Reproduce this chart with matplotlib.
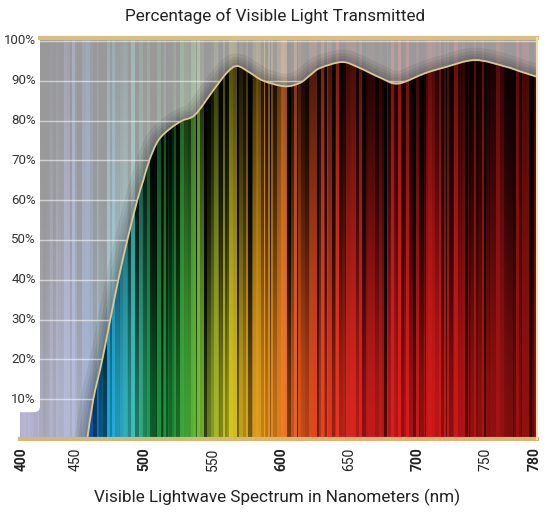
import numpy as np
import matplotlib
matplotlib.use('Agg')
import matplotlib.pyplot as plt
import matplotlib.transforms as mtransforms
from matplotlib.colors import to_rgb
from matplotlib.patches import FancyBboxPatch, PathPatch
from matplotlib.path import Path

# transmission curve (nm, %)
wavelength = [458.3, 462.7, 469.3, 475.1, 481.0, 487.6, 494.9, 499.3, 503.7, 510.2,
              519.0, 527.8, 537.3, 550.5, 560.7, 568.0, 577.5, 587.1, 603.1, 614.1,
              621.4, 628.7, 644.8, 656.5, 672.6, 685.8, 705.6, 720.2, 742.1, 764.0,
              776.5, 787.5]
transmission = [0, 10, 20, 30, 40, 50, 60, 65, 70, 75,
                78, 80, 81.5, 87.6, 92.1, 93.7, 92.0, 90.0, 88.6, 89.5,
                91.4, 93.2, 94.7, 93.4, 90.8, 89.3, 91.9, 93.4, 95.2, 93.6,
                92.2, 91.0]

y_ticks = [10, 20, 30, 40, 50, 60, 70, 80, 90, 100]
x_tick_labels = ['400', '450', '500', '550', '600', '650', '700', '750', '780']
# end labels sit on the frame edges like in the original
x_tick_pos = [410.5, 450, 500, 550, 600, 650, 700, 750, 786]
bold_labels = ['400', '500', '600', '700', '780']

# spectrum colour stops for the background
spec_nm = [409, 445, 460, 470, 482, 495, 505, 520, 535, 548, 562, 575, 595, 610, 635, 660,
           720, 750, 787.5]
spec_col = ['#6a5acd', '#5a70d0', '#1850b0', '#10a8e8', '#30c0e0', '#40c8b0', '#18a048', '#20a040',
            '#58b838', '#a0c430', '#e0d820', '#f0b820', '#f09020', '#f06820', '#f03c20', '#e82020',
            '#d81a1a', '#b01414', '#901010']

XMIN, XMAX = 409, 787.5
YMAX = 100.75

plt.rcParams['font.family'] = ['Roboto', 'DejaVu Sans']

fig = plt.figure(figsize=(5.5, 5.14), dpi=100)
ax = fig.add_axes([20 / 550, 1 - 439 / 514, 517 / 550, 401 / 514])
ax.set_xlim(XMIN, XMAX)
ax.set_ylim(0, YMAX)
for s in ax.spines.values():
    s.set_visible(False)


def hash01(k):
    return np.mod(np.sin(k * 12.9898 + 78.233) * 43758.5453, 1.0)


# background texture: thin vertical stripes, one column per pixel
W, H = 517, 320
xs = np.linspace(XMIN, XMAX, W)
ys = np.linspace(0, YMAX, H)
rgb = np.array([to_rgb(c) for c in spec_col])
col = np.stack([np.interp(xs, spec_nm, rgb[:, k]) for k in range(3)], axis=1)

b = np.empty(W)
p, k = 0, 0
while p < W:
    w = 1 + int(hash01(k + 0.5) * 3.99)
    b[p:p + w] = 0.05 + 0.95 * hash01(k + 7.3) ** 0.8
    p += w
    k += 1

t = (ys / 100.0)[:, None, None]
base = col[None, :, :] * (b[None, :, None] ** (0.4 + 3.2 * t ** 1.8)) * (1 - 0.4 * t ** 2)
base = np.clip(base, 0, 1)
over = np.clip(0.6 + 0.32 * base, 0, 1)

ax.imshow(over, extent=[XMIN, XMAX, 0, YMAX], origin='lower', aspect='auto',
          interpolation='nearest', zorder=0)

# smooth path through the read points (Catmull-Rom as cubic Bezier)
pts = np.column_stack([wavelength, transmission])
ext = np.vstack([pts[0], pts, pts[-1]])
verts = [tuple(pts[0])]
codes = [Path.MOVETO]
for i in range(1, len(ext) - 2):
    p0, p1, p2, p3 = ext[i - 1], ext[i], ext[i + 1], ext[i + 2]
    verts += [tuple(p1 + (p2 - p0) / 6), tuple(p2 - (p3 - p1) / 6), tuple(p2)]
    codes += [Path.CURVE4] * 3
curve = Path(verts, codes)
area = Path(verts + [(XMAX + 5, transmission[-1]), (XMAX + 5, -1), (wavelength[0], -1), verts[0]],
            codes + [Path.LINETO, Path.LINETO, Path.LINETO, Path.CLOSEPOLY])

# soft shadow above the curve
for lw in [18, 13, 9, 5]:
    ax.add_patch(PathPatch(curve, fc='none', ec='black', lw=lw, alpha=0.07,
                           joinstyle='round', capstyle='round', zorder=1))

for v in y_ticks:
    ax.axhline(v, color='white', lw=1, alpha=0.55, zorder=1.5)

area_patch = PathPatch(area, fc='none', ec='none', transform=ax.transData)
ax.add_patch(area_patch)
im = ax.imshow(base, extent=[XMIN, XMAX, 0, YMAX], origin='lower', aspect='auto',
               interpolation='nearest', zorder=2)
im.set_clip_path(area_patch)

ax.add_patch(PathPatch(curve, fc='none', ec='#dcc894', lw=1.3, zorder=3))

# white label panel on the left
px_x = (XMAX - XMIN) / 517
px_y = YMAX / 401
panel = FancyBboxPatch((XMIN - 20, (438.8 - 412) / 3.98), 20 * px_x + 20, 200,
                       boxstyle='round,pad=0,rounding_size=%.2f' % (6 * px_x),
                       mutation_aspect=px_y / px_x, fc='white', ec='none', zorder=4)
ax.add_patch(panel)

ax.axhline(YMAX, xmin=20 / 517, xmax=1, color='#d9bf80', lw=3, zorder=5, clip_on=False)
ax.axhline(0, color='#d4b87a', lw=3, zorder=5, clip_on=False)
ax.axvline(XMAX, color='#f0ddb0', lw=1.5, zorder=5, clip_on=False)

ytr = mtransforms.blended_transform_factory(ax.transAxes, ax.transData)
for v in y_ticks:
    ax.text(16 / 517, v, '%d%%' % v, transform=ytr, ha='right', va='center',
            fontsize=9.5, color='#333333', zorder=6)

ax.set_yticks([])
ax.set_xticks(x_tick_pos)
ax.set_xticklabels(x_tick_labels, rotation=90, fontsize=10, color='#222222')
for lab in ax.get_xticklabels():
    lab.set_fontweight('bold' if lab.get_text() in bold_labels else 'normal')
ax.tick_params(axis='x', length=0, pad=6)

fig.text(275 / 550, 1 - 16 / 514, 'Percentage of Visible Light Transmitted',
         ha='center', va='center', fontsize=12.3, color='#222222')
fig.text(277 / 550, 1 - 497 / 514, 'Visible Lightwave Spectrum in Nanometers (nm)',
         ha='center', va='center', fontsize=12.3, color='#222222')

fig.savefig('out.png', dpi=100)
